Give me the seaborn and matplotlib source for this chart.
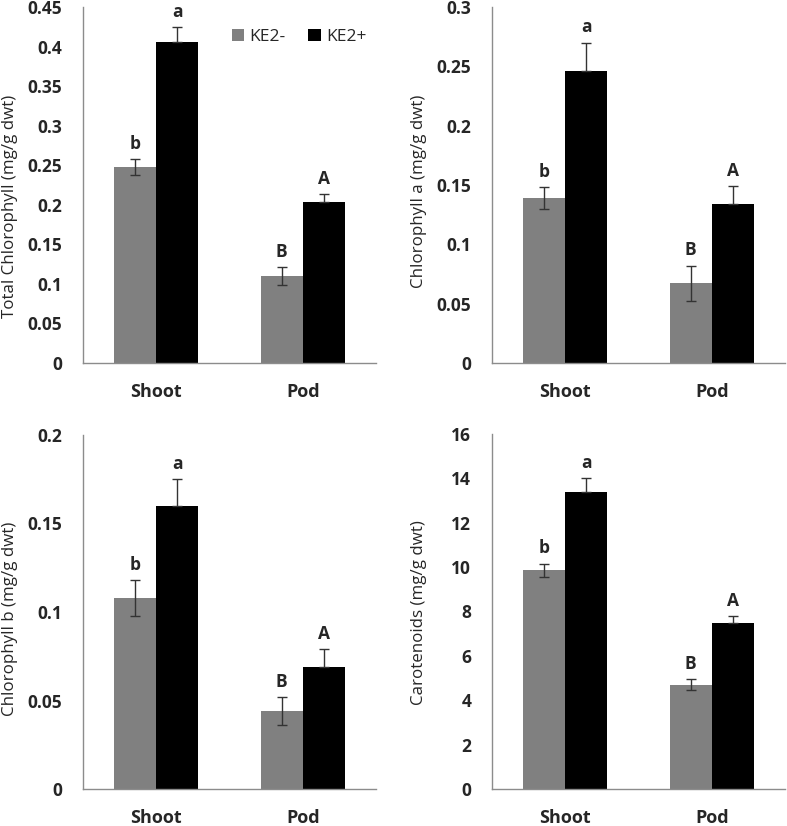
import matplotlib
matplotlib.use("Agg")
import matplotlib.pyplot as plt
import seaborn as sns
import pandas as pd

sns.set_style("white")
plt.rcParams['font.family'] = ['Open Sans', 'DejaVu Sans']

categories = ["Shoot", "Pod"]
groups = ["KE2-", "KE2+"]

total_minus = [0.248, 0.110]
total_plus = [0.406, 0.203]
total_minus_err = [0.010, 0.011]
total_plus_err = [0.019, 0.010]

chla_minus = [0.139, 0.067]
chla_plus = [0.246, 0.134]
chla_minus_err = [0.0095, 0.015]
chla_plus_err = [0.024, 0.015]

chlb_minus = [0.108, 0.044]
chlb_plus = [0.160, 0.069]
chlb_minus_err = [0.010, 0.008]
chlb_plus_err = [0.015, 0.010]

car_minus = [9.86, 4.70]
car_plus = [13.40, 7.50]
car_minus_err = [0.30, 0.25]
car_plus_err = [0.60, 0.30]

letters_minus = ["b", "B"]
letters_plus = ["a", "A"]

ylabels = ["Total Chlorophyll (mg/g dwt)", "Chlorophyll a (mg/g dwt)",
           "Chlorophyll b (mg/g dwt)", "Carotenoids (mg/g dwt)"]
yticks_list = [
    [0, 0.05, 0.1, 0.15, 0.2, 0.25, 0.3, 0.35, 0.4, 0.45],
    [0, 0.05, 0.1, 0.15, 0.2, 0.25, 0.3],
    [0, 0.05, 0.1, 0.15, 0.2],
    [0, 2, 4, 6, 8, 10, 12, 14, 16],
]
ytick_labels_list = [
    ["0", "0.05", "0.1", "0.15", "0.2", "0.25", "0.3", "0.35", "0.4", "0.45"],
    ["0", "0.05", "0.1", "0.15", "0.2", "0.25", "0.3"],
    ["0", "0.05", "0.1", "0.15", "0.2"],
    ["0", "2", "4", "6", "8", "10", "12", "14", "16"],
]

panels = [
    (total_minus, total_plus, total_minus_err, total_plus_err),
    (chla_minus, chla_plus, chla_minus_err, chla_plus_err),
    (chlb_minus, chlb_plus, chlb_minus_err, chlb_plus_err),
    (car_minus, car_plus, car_minus_err, car_plus_err),
]

palette = {"KE2-": "#808080", "KE2+": "#000000"}
spine_color = "#8c8c8c"

fig = plt.figure(figsize=(7.87, 8.26), dpi=100)
W, H = 787, 826
boxes = [
    (83, 7, 376, 363),
    (492, 7, 785, 363),
    (83, 435, 376, 789),
    (492, 434, 785, 789),
]
label_y = [0.44, 0.483, 0.48, 0.498]

for i, (vm, vp, em, ep) in enumerate(panels):
    x0, y0, x1, y1 = boxes[i]
    ax = fig.add_axes([x0 / W, 1 - y1 / H, (x1 - x0) / W, (y1 - y0) / H])
    df = pd.DataFrame({
        "tissue": categories * 2,
        "group": [groups[0]] * 2 + [groups[1]] * 2,
        "value": list(vm) + list(vp),
    })
    sns.barplot(data=df, x="tissue", y="value", hue="group", order=categories,
                hue_order=groups, palette=palette, width=0.575, errorbar=None,
                saturation=1, ax=ax, legend=(i == 0), linewidth=0)
    errs = [em, ep]
    labs = [letters_minus, letters_plus]
    bar_conts = list(ax.containers)
    for k, cont in enumerate(bar_conts):
        for j, bar in enumerate(cont.patches):
            xc = bar.get_x() + bar.get_width() / 2
            h = bar.get_height()
            e = errs[k][j]
            lower = e if k == 0 else 0
            ax.errorbar(xc, h, yerr=[[lower], [e]], color="#333333",
                        elinewidth=1, capsize=3.5, capthick=1, zorder=5)
            ax.annotate(labs[k][j], (xc, h + e), xytext=(0, 4.5),
                        textcoords="offset points", ha="center", va="bottom",
                        fontsize=12.5, fontweight="bold")
    yt = yticks_list[i]
    ax.set_ylim(0, yt[-1])
    ax.set_yticks(yt)
    ax.set_yticklabels(ytick_labels_list[i], fontsize=12.5, fontweight="bold")
    ax.set_xlim(-0.5, 1.5)
    ax.set_xticks([-0.5, 0.5, 1.5])
    ax.set_xticklabels(["", "", ""])
    ax.set_xticks([0, 1], minor=True)
    ax.set_xticklabels(categories, minor=True, fontsize=13, fontweight="bold",
                       va="baseline")
    ax.tick_params(axis="x", which="minor", length=0, pad=24.5)
    ax.tick_params(axis="x", which="major", length=5, width=1, color=spine_color, direction="out")
    ax.tick_params(axis="y", length=5, width=1, color=spine_color, direction="out", pad=10)
    ax.set_xlabel("")
    ax.set_ylabel(ylabels[i], fontsize=12.2)
    ax.yaxis.set_label_coords(-0.222, label_y[i])
    for s in ["top", "right"]:
        ax.spines[s].set_visible(False)
    for s in ["left", "bottom"]:
        ax.spines[s].set_color(spine_color)
        ax.spines[s].set_linewidth(1)
    if i == 0:
        leg = ax.legend(loc="upper right", bbox_to_anchor=(0.99, 0.958), ncol=2,
                        frameon=False, fontsize=12.5, handlelength=0.7,
                        handleheight=0.7, handletextpad=0.3, columnspacing=1.3,
                        borderaxespad=0)

fig.savefig("out.png", dpi=100)
